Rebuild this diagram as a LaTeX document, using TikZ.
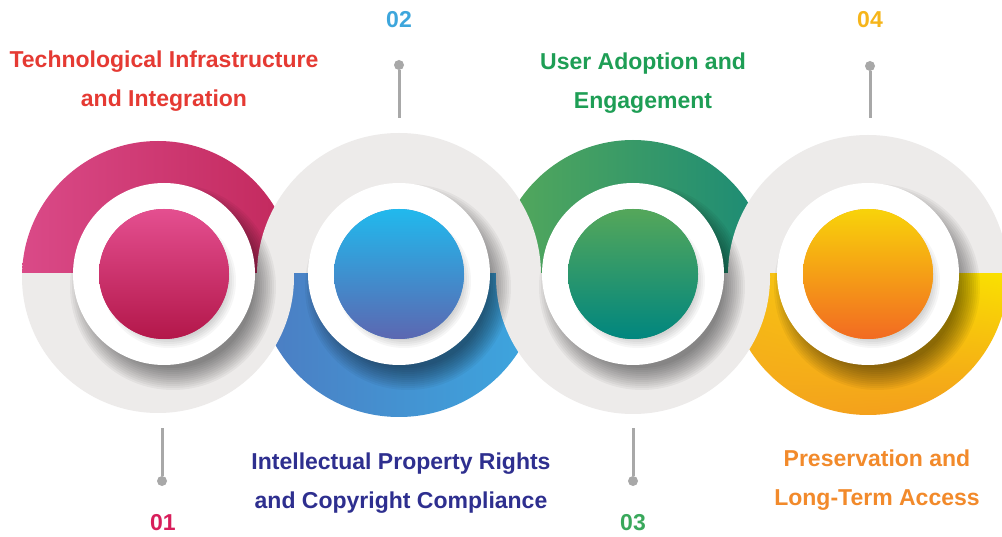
\documentclass[tikz,border=0pt]{standalone}
\usepackage{fontspec}
\setmainfont{Liberation Sans}
\usetikzlibrary{shadings}
\definecolor{ringgray}{HTML}{EDEBEA}
\definecolor{pingray}{HTML}{A8A8A8}
\definecolor{pinkL}{HTML}{DA4A88}
\definecolor{pinkR}{HTML}{C2285C}
\definecolor{blueL}{HTML}{4C7CC2}
\definecolor{blueR}{HTML}{3CA8E0}
\definecolor{greenL}{HTML}{56A95A}
\definecolor{greenR}{HTML}{1A8A76}
\definecolor{yelUL}{HTML}{F6BC17}
\definecolor{yelUR}{HTML}{FAE200}
\definecolor{yelLL}{HTML}{F4A51C}
\definecolor{yelLR}{HTML}{F39A1D}
\definecolor{ipinkT}{HTML}{E44F90}
\definecolor{ipinkB}{HTML}{B3174A}
\definecolor{iblueT}{HTML}{21B9ED}
\definecolor{iblueB}{HTML}{5C67B1}
\definecolor{igreenT}{HTML}{55A75A}
\definecolor{igreenB}{HTML}{00867F}
\definecolor{iorT}{HTML}{F8D30A}
\definecolor{iorB}{HTML}{F26A22}
\definecolor{techred}{HTML}{E53A33}
\definecolor{usergreen}{HTML}{1E9E55}
\definecolor{iprnavy}{HTML}{2E2F8F}
\definecolor{presorange}{HTML}{F28A2B}
\definecolor{numA}{HTML}{D81E5B}
\definecolor{numB}{HTML}{3DA6DC}
\definecolor{numC}{HTML}{39A85B}
\definecolor{numD}{HTML}{F6B51A}
\tikzset{
  title/.style={font=\bfseries\fontsize{23}{39}\selectfont, align=center, inner sep=0pt},
  num/.style={font=\bfseries\fontsize{23}{26}\selectfont, inner sep=0pt},
  pindot/.style={circle, fill=pingray, minimum size=10pt, inner sep=0pt},
  pinline/.style={draw=pingray, line width=3pt},
}
\begin{document}
\begin{tikzpicture}[x=1pt,y=1pt]
\useasboundingbox (0,0) rectangle (1002,536);
\fill[white] (0,0) rectangle (1002,536);

% coloured halves of the rings
\begin{scope}\clip (158,259) circle (136);
  \shade[left color=pinkL, right color=pinkR] (20,263) rectangle (296,400);\end{scope}
\begin{scope}\clip (399,261) circle (142);
  \shade[left color=blueL, right color=blueR] (255,263) rectangle (545,115);\end{scope}
\begin{scope}\clip (633,259) circle (137);
  \shade[left color=greenL, right color=greenR] (494,263) rectangle (772,400);\end{scope}
\begin{scope}\clip (868,261) circle (140);
  \shade[upper left=yelUL, upper right=yelUR, lower left=yelLL, lower right=yelLR] (726,263) rectangle (1010,118);\end{scope}

% grey halves of the rings (always on top)
\begin{scope}\clip (158,259) circle (136);
  \fill[ringgray] (20,263) rectangle (296,118);\end{scope}
\begin{scope}\clip (399,261) circle (142);
  \fill[ringgray] (255,263) rectangle (545,405);\end{scope}
\begin{scope}\clip (633,259) circle (137);
  \fill[ringgray] (494,263) rectangle (772,118);\end{scope}
\begin{scope}\clip (868,261) circle (140);
  \fill[ringgray] (726,263) rectangle (1010,405);\end{scope}

% white discs with soft shadows, and inner coloured discs
\foreach \cx/\ct/\cb in {164/ipinkT/ipinkB, 399/iblueT/iblueB, 633/igreenT/igreenB, 868/iorT/iorB}{
  \foreach \k in {0,...,11}{
    \fill[black, opacity=0.045] (\cx+9,249) circle ({103-2*\k});
  }
  \fill[white] (\cx,262) circle (91);
  \foreach \k in {0,...,7}{
    \fill[black, opacity=0.035] (\cx+5,255) circle ({67-2*\k});
  }
  \fill[\ct!50!\cb] (\cx,262) circle (65);
  \shade[top color=\ct, bottom color=\cb] (\cx,262) circle (65);
}

% pins
\node[pindot] (pin2) at (399,471) {};
\coordinate (pin2e) at (399,418);
\draw[pinline] (pin2) -- (pin2e);
\node[pindot] (pin4) at (870,470) {};
\coordinate (pin4e) at (870,418);
\draw[pinline] (pin4) -- (pin4e);
\node[pindot] (pin1) at (162,55) {};
\coordinate (pin1e) at (162,108);
\draw[pinline] (pin1) -- (pin1e);
\node[pindot] (pin3) at (633,55) {};
\coordinate (pin3e) at (633,108);
\draw[pinline] (pin3) -- (pin3e);

% numbers
\node[num, text=numA] (n01) at (163,13) {01};
\node[num, text=numB] (n02) at (399,516) {02};
\node[num, text=numC] (n03) at (633,13) {03};
\node[num, text=numD] (n04) at (870,516) {04};

% titles
\node[title, text=techred] (t1) at (164,455) {Technological Infrastructure\\and Integration};
\node[title, text=usergreen] (t3) at (643,453) {User Adoption and\\Engagement};
\node[title, text=iprnavy] (t2) at (401,53) {Intellectual Property Rights\\and Copyright Compliance};
\node[title, text=presorange] (t4) at (877,56) {Preservation and\\Long-Term Access};
\end{tikzpicture}
\end{document}
